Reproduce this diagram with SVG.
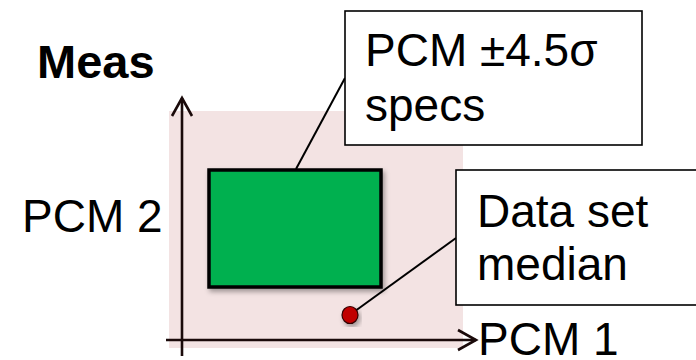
<svg xmlns="http://www.w3.org/2000/svg" width="696" height="360" viewBox="0 0 696 360">
<style>
.t{font-family:"Liberation Sans",Arial,sans-serif;font-size:46px;fill:#000}
.b{font-weight:bold;font-size:47px}
.box{fill:#fff;stroke:#000;stroke-width:1.6}
.ax{stroke:#1a0a0a;stroke-width:2.6;fill:none}
.co{stroke:#000;stroke-width:2;fill:none}
</style>
<defs>
<filter id="sh" x="-20%" y="-20%" width="140%" height="140%">
<feDropShadow dx="2" dy="3" stdDeviation="2.5" flood-color="#000" flood-opacity="0.35"/>
</filter>
</defs>
<rect id="plot-area" x="169" y="111" width="294" height="237" fill="#f3e3e3"/>
<g id="axes">
<line class="ax" x1="182" y1="98" x2="182" y2="356"/>
<polyline class="ax" points="172,116 182,98 192,116"/>
<line class="ax" x1="166" y1="340" x2="476" y2="340"/>
<polyline class="ax" points="458,330 476,340 458,350"/>
</g>
<g id="connectors">
<line class="co" x1="345" y1="78" x2="296" y2="169"/>
<line class="co" x1="456" y1="238" x2="351" y2="314"/>
</g>
<g id="spec-box">
<rect x="209" y="170" width="172" height="117" fill="#00b050" stroke="#000" stroke-width="3.5" filter="url(#sh)"/>
</g>
<g id="median-dot">
<ellipse cx="350" cy="315" rx="8" ry="8.5" fill="#c00000" stroke="#300" stroke-width="1.2" filter="url(#sh)"/>
</g>
<g id="callout-specs">
<rect class="box" x="345" y="11" width="297" height="134"/>
<text class="t" x="365" y="66">PCM ±4.5σ</text>
<text class="t" x="365" y="121">specs</text>
</g>
<g id="callout-median">
<rect class="box" x="456" y="170" width="250" height="135"/>
<text class="t" x="477" y="227">Data set</text>
<text class="t" x="477" y="280">median</text>
</g>
<g id="labels">
<text class="t b" x="37" y="78">Meas</text>
<text class="t" x="22" y="232">PCM 2</text>
<text class="t" x="478" y="355">PCM 1</text>
</g>
</svg>
